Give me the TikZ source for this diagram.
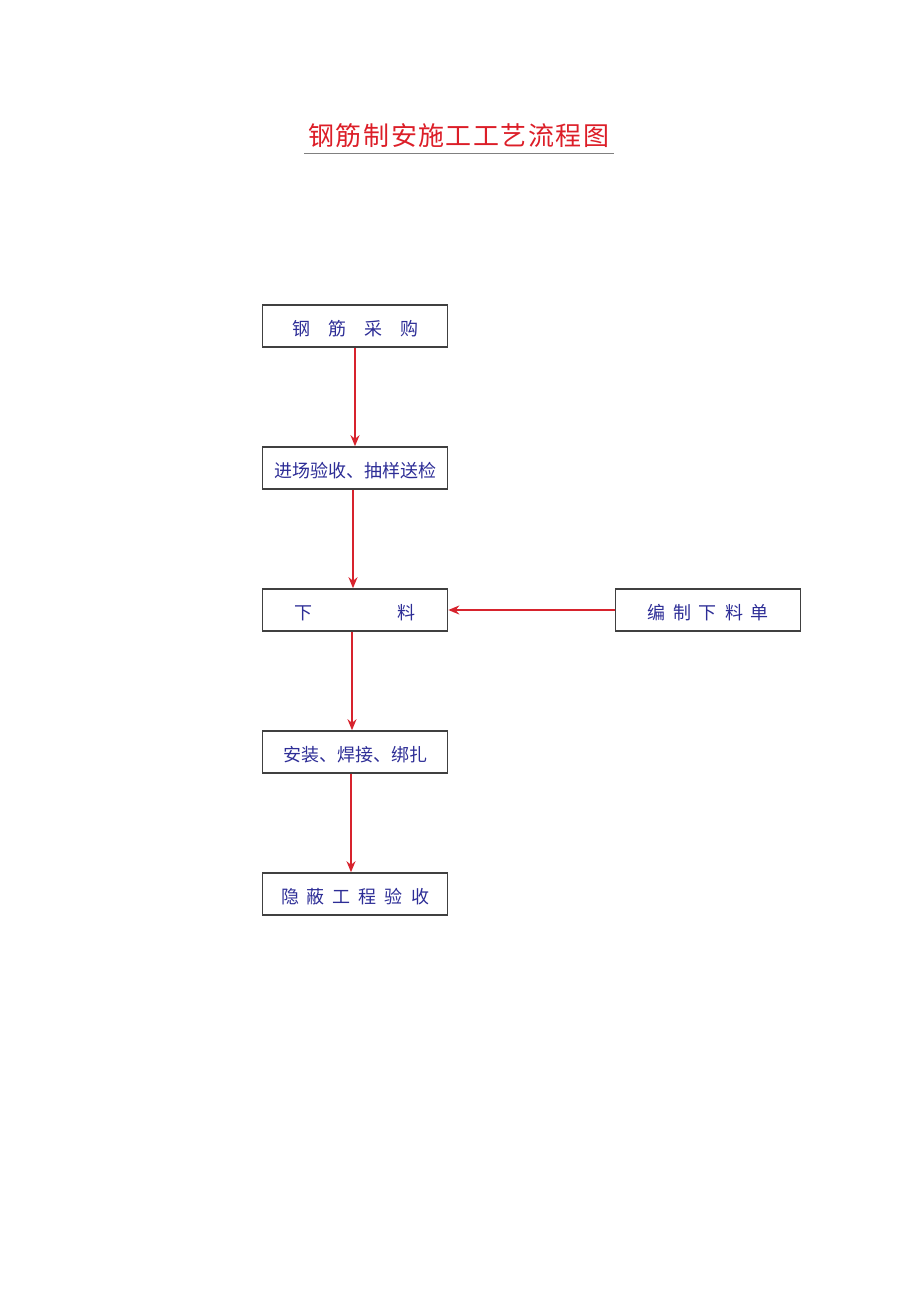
\documentclass[tikz,border=0pt]{standalone}
\usepackage{fontspec}
\newfontfamily\cjk{Noto Sans CJK SC}
\usetikzlibrary{arrows.meta}
\definecolor{txtblue}{RGB}{45,45,150}
\definecolor{titlered}{RGB}{220,30,40}
\definecolor{arrred}{RGB}{215,35,45}
\begin{document}
\begin{tikzpicture}[x=1pt,y=-1pt,
  stepbox/.style={draw=black!75,line width=1.6pt,minimum width=185pt,minimum height=42pt,inner sep=0pt,text depth=0pt,font=\cjk\fontsize{18}{21}\selectfont,text=txtblue},
  flow/.style={draw=arrred,line width=1.6pt,-{Stealth[length=11pt,width=9pt]}}]
\useasboundingbox (0,0) rectangle (920,1301);
\node[font=\cjk\fontsize{26}{30}\selectfont,text=titlered] (title) at (459,136) {钢\hspace{1.5pt}筋\hspace{1.5pt}制\hspace{1.5pt}安\hspace{1.5pt}施\hspace{1.5pt}工\hspace{1.5pt}工\hspace{1.5pt}艺\hspace{1.5pt}流\hspace{1.5pt}程\hspace{1.5pt}图};
\draw[gray,line width=1.2pt] (304,153.5) -- (614,153.5);
\node[stepbox] (a) at (355,326) {\raisebox{-3pt}{钢\hspace{18pt}筋\hspace{18pt}采\hspace{18pt}购}};
\node[stepbox] (b) at (355,468) {\raisebox{-3pt}{进场验收、抽样送检}};
\node[stepbox] (c) at (355,610) {\raisebox{-3pt}{下\hspace{85pt}料}};
\node[stepbox] (d) at (355,752) {\raisebox{-3pt}{安装、焊接、绑扎}};
\node[stepbox] (e) at (355,894) {\raisebox{-3pt}{隐\hspace{8pt}蔽\hspace{8pt}工\hspace{8pt}程\hspace{8pt}验\hspace{8pt}收}};
\node[stepbox] (f) at (708,610) {\raisebox{-3pt}{编\hspace{8pt}制\hspace{8pt}下\hspace{8pt}料\hspace{8pt}单}};
\draw[flow] (a.south) -- (b.north);
\draw[flow] ([xshift=-2pt]b.south) -- ([xshift=-2pt]c.north);
\draw[flow] ([xshift=-3pt]c.south) -- ([xshift=-3pt]d.north);
\draw[flow] ([xshift=-4pt]d.south) -- ([xshift=-4pt]e.north);
\draw[flow] (f.west) -- (c.east);
\end{tikzpicture}
\end{document}
